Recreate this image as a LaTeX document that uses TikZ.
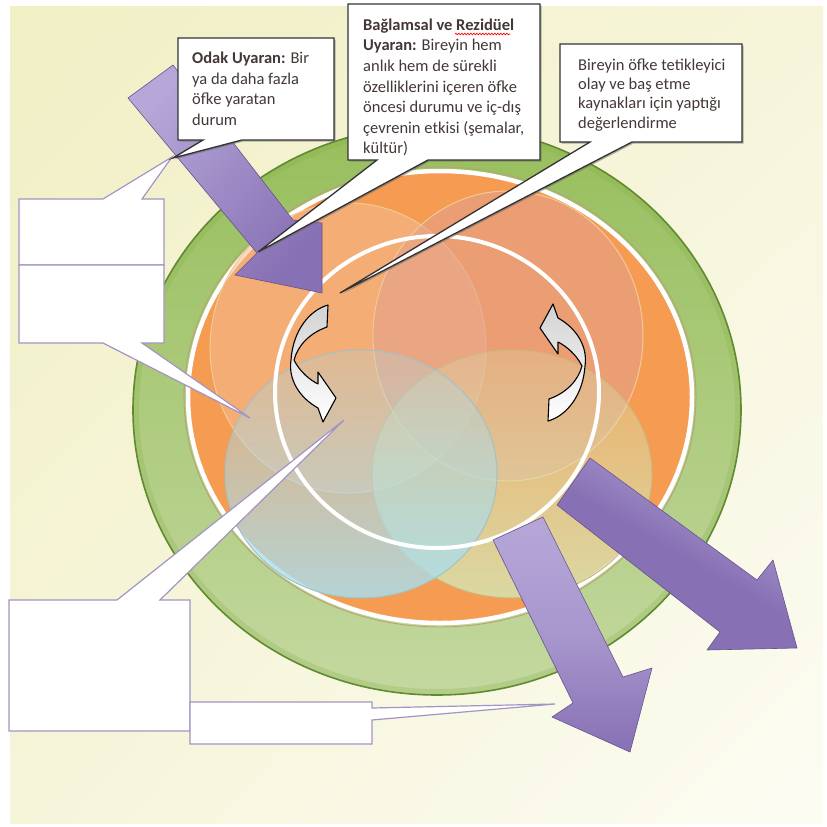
\documentclass[tikz,border=0pt]{standalone}
\usepackage{fontspec}
\setmainfont{Carlito}
\usetikzlibrary{shadows,shadings,fadings,decorations.pathmorphing}
\definecolor{bgA}{HTML}{F1EFC4}
\definecolor{bgM}{HTML}{F6F5DA}
\definecolor{bgB}{HTML}{FCFCF3}
\definecolor{grnOut}{HTML}{5F8A2E}
\definecolor{grnTop}{HTML}{97BE5C}
\definecolor{grnMid}{HTML}{A4C66E}
\definecolor{grnBot}{HTML}{C3D89F}
\definecolor{grnEdge}{HTML}{86AE4A}
\definecolor{orng}{HTML}{F59C52}
\definecolor{ringline}{HTML}{B9A277}
\definecolor{tlc}{HTML}{F3BC92}
\definecolor{trc}{HTML}{E3A18F}
\definecolor{blc}{HTML}{ABDDEC}
\definecolor{brc}{HTML}{D6E4B2}
\definecolor{tlline}{HTML}{F2C998}
\definecolor{blline}{HTML}{9FC3C7}
\definecolor{brline}{HTML}{CDB77E}
\definecolor{purA}{HTML}{8770B4}
\definecolor{purB}{HTML}{B6A7D8}
\definecolor{purEdge}{HTML}{66538F}
\definecolor{lav}{HTML}{A395C2}
\definecolor{txt}{HTML}{433836}
\tikzfading[name=vennfade, top color=transparent!75, bottom color=transparent!15]
\begin{document}
\begin{tikzpicture}[x=1pt,y=-1pt,
  callout/.style={fill=white, draw=black!80, line width=1.3pt, line join=miter,
    drop shadow={shadow xshift=1.5pt, shadow yshift=-1.5pt, fill=black!60, opacity=0.5}},
  blank/.style={fill=white, draw=lav, line width=1.2pt, line join=miter},
  bigarrow/.style={draw=purEdge, line width=0.6pt, line join=round},
  curvy/.style={draw=black, line width=1.1pt, line join=round, top color=gray!35, bottom color=white},
  ctext/.style={anchor=north west, inner sep=0pt, align=left, text=txt},
  venn/.style={line width=1pt, fill opacity=0.55}
]
\useasboundingbox (0,0) rectangle (827,827);
\fill[white] (0,0) rectangle (827,827);
\shade[upper left=bgA, upper right=bgM, lower left=bgM, lower right=bgB] (10,6) rectangle (823,823);

% green ring
\shade[top color=grnTop, middle color=grnMid, bottom color=grnBot] (437,410) ellipse [x radius=304, y radius=285];
\draw[grnEdge, line width=6pt, opacity=0.25] (437,410) ellipse [x radius=301, y radius=282];
\draw[grnOut, line width=1.6pt] (437,410) ellipse [x radius=304, y radius=285];
% orange disc
\draw[ringline, line width=0.9pt] (440,397) ellipse [x radius=256, y radius=230];
\fill[orng] (440,397) ellipse [x radius=252, y radius=226];
\draw[white, line width=4.5pt] (440,397) ellipse [x radius=252, y radius=226];

% venn circles
\path[venn, fill=tlc, draw=tlline] (348,348) ellipse [x radius=138, y radius=145];
\path[venn, fill=trc, draw=tlline] (508,336) ellipse [x radius=135, y radius=145];
\fill[brc, path fading=vennfade] (512,474) ellipse [x radius=140, y radius=124];
\draw[brline, line width=1pt] (512,474) ellipse [x radius=140, y radius=124];
\fill[blc, path fading=vennfade] (361,474) ellipse [x radius=136, y radius=124];
\draw[blline, line width=1pt] (361,474) ellipse [x radius=136, y radius=124];

% white centre circle
\draw[white, line width=4pt] (437,392) ellipse [x radius=162, y radius=156];

% big purple arrows
\shade[bigarrow, left color=purB, right color=purA, shading angle=50]
  (128,98) -- (173,65) -- (293,220) -- (322,223) -- (322,293) -- (235,275) -- (257,253) -- cycle;
\shade[bigarrow, top color=purB, bottom color=purA, middle color=purB!70!purA]
  (493,540) -- (543,517) -- (623,677) -- (652,668) -- (630,752) -- (552,717) -- (573,703) -- cycle;
\shade[bigarrow, left color=purB, right color=purA, middle color=purA, shading angle=-30]
  (557,505) -- (590,458) -- (757,580) -- (773,560) -- (797,648) -- (707,650) -- (720,632) -- cycle;

% curved arrows
\path[curvy] (328,305) -- (327,327) .. controls (310,333) and (298,345) .. (294,360)
  .. controls (300,372) and (310,380) .. (318,384) -- (318,372) -- (336,398) -- (323,422) -- (318,408)
  .. controls (300,398) and (288,380) .. (291,360) .. controls (293,330) and (310,310) .. (328,305) -- cycle;
\path[curvy, rotate around={180:(438,363)}] (328,305) -- (327,327) .. controls (310,333) and (298,345) .. (294,360)
  .. controls (300,372) and (310,380) .. (318,384) -- (318,372) -- (336,398) -- (323,422) -- (318,408)
  .. controls (300,398) and (288,380) .. (291,360) .. controls (293,330) and (310,310) .. (328,305) -- cycle;

% blank callouts
\draw[blank] (19,199) -- (103,199) -- (172,157) -- (142,199) -- (164,199) -- (164,265) -- (19,265) -- cycle;
\draw[blank] (19,265) -- (164,265) -- (164,343) -- (142,343) -- (250,418) -- (103,343) -- (19,343) -- cycle;
\draw[blank] (9,600) -- (117,600) -- (344,420) -- (160,600) -- (190,600) -- (190,731) -- (9,731) -- cycle;
\draw[blank] (190,702) -- (372,702) -- (372,708) -- (555,704) -- (372,720) -- (372,744) -- (190,744) -- cycle;

% text callouts
\draw[callout] (178,38) -- (334,38) -- (334,140) -- (242,140) -- (173,158) -- (203,140) -- (178,140) -- cycle;
\draw[callout] (348,4) -- (540,4) -- (540,160) -- (428,160) -- (258,252) -- (377,160) -- (348,160) -- cycle;
\draw[callout] (560,44) -- (742,44) -- (742,142) -- (632,142) -- (340,293) -- (590,142) -- (560,142) -- cycle;

\node[ctext, font=\fontsize{16.5}{20.6}\selectfont] (odak) at (192,52)
  {\textbf{Odak Uyaran:} Bir\\ya da daha fazla\\öfke yaratan\\durum};
\node[ctext, font=\fontsize{16.5}{20.6}\selectfont] (baglam) at (363,18.5)
  {\textbf{Bağlamsal ve Rezidüel}\\\textbf{Uyaran:} Bireyin hem\\anlık hem de sürekli\\özelliklerini içeren öfke\\öncesi durumu ve iç-dış\\çevrenin etkisi (şemalar,\\kültür)};
\draw[red, line width=0.7pt, decorate, decoration={snake, amplitude=0.8pt, segment length=3pt}] (455,34) -- (510,34);
\node[ctext, font=\fontsize{16.5}{19.3}\selectfont] (birey) at (578,58.5)
  {Bireyin öfke tetikleyici\\olay ve baş etme\\kaynakları için yaptığı\\değerlendirme};
\end{tikzpicture}
\end{document}
